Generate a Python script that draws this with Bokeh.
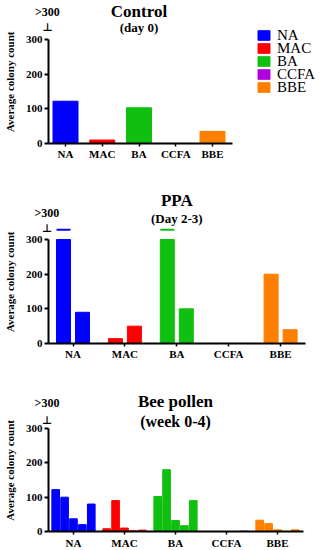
from bokeh.plotting import figure
from bokeh.models import (Range1d, FixedTicker, Label, ColumnDataSource,
                          Legend, LegendItem)
from bokeh.layouts import column
from bokeh.embed import file_html
from bokeh.resources import INLINE

# ---------------- data ----------------
media = ["NA", "MAC", "BA", "CCFA", "BBE"]
media_colors = ["#0000ff", "#ff0000", "#10c010", "#b000e0", "#ff8000"]
y_ticks = [0, 100, 200, 300]

# Control (day 0): one value per medium
control_day0 = [122, 10, 103, 0, 35]

# PPA (day 2-3): two values per medium
ppa_day2 = [300, 14, 300, 0, 200]
ppa_day3 = [90, 50, 100, 0, 40]
ppa_day2_over300 = [True, False, True, False, False]
OVER300_LEVEL = 328

# Bee pollen (week 0-4): five values per medium
pollen_w0 = [122, 8, 102, 0, 33]
pollen_w1 = [100, 90, 180, 0, 23]
pollen_w2 = [37, 10, 32, 0, 5]
pollen_w3 = [20, 2, 17, 0, 0]
pollen_w4 = [80, 4, 90, 1, 5]

SERIF = "Liberation Serif"
W = 321


def base_fig(h, x_range, y_range, axis_x, axis_x_end):
    p = figure(width=W, height=h, min_border=0,
               x_range=Range1d(*x_range), y_range=Range1d(*y_range),
               output_backend="svg", toolbar_location=None)
    p.outline_line_color = None
    p.grid.grid_line_color = None

    ya = p.yaxis[0]
    ya.fixed_location = axis_x
    ya.bounds = (0, 300)
    ya.ticker = FixedTicker(ticks=y_ticks)
    ya.minor_tick_line_color = None
    ya.major_tick_in = 0
    ya.major_tick_out = 4
    ya.axis_line_width = 2
    ya.axis_line_color = "black"
    ya.major_tick_line_width = 2
    ya.major_tick_line_color = "black"
    ya.major_label_standoff = 2
    ya.major_label_text_font = SERIF
    ya.major_label_text_font_style = "bold"
    ya.major_label_text_font_size = "11px"
    ya.major_label_text_color = "black"

    xa = p.xaxis[0]
    xa.fixed_location = 0
    xa.bounds = (axis_x, axis_x_end)
    xa.ticker = FixedTicker(ticks=list(range(len(media))))
    xa.major_label_overrides = {i: m for i, m in enumerate(media)}
    xa.minor_tick_line_color = None
    xa.major_tick_in = 0
    xa.major_tick_out = 3
    xa.axis_line_width = 2
    xa.axis_line_color = "black"
    xa.major_tick_line_width = 1.5
    xa.major_tick_line_color = "black"
    xa.major_label_standoff = 2
    xa.major_label_text_font = SERIF
    xa.major_label_text_font_style = "bold"
    xa.major_label_text_font_size = "11px"
    xa.major_label_text_color = "black"
    return p


def dlabel(p, x, y, text, size, bold=True, font=SERIF, angle=0):
    p.add_layout(Label(x=x, y=y, text=text, text_align="center",
                       text_baseline="middle", text_font=font,
                       text_font_style="bold" if bold else "normal",
                       text_font_size=size, text_color="black",
                       angle=angle, angle_units="deg"))


def headings(p, axis_x, ylabel_x, title, title_y, sub, sub_y, sub_size, over_y, perp_y):
    dlabel(p, 2, title_y, title, "17px")
    dlabel(p, 2, sub_y, sub, sub_size)
    dlabel(p, axis_x - 0.03, over_y, ">300", "12px")
    dlabel(p, axis_x - 0.03, perp_y, "\u22a5", "11px", bold=True, font="DejaVu Sans")
    dlabel(p, ylabel_x, 178, "Average colony count", "11px", angle=90)


def grouped(values_lists, step):
    n = len(values_lists)
    xs, tops, cols = [], [], []
    for j, vals in enumerate(values_lists):
        off = (j - (n - 1) / 2) * step
        for i, v in enumerate(vals):
            xs.append(i + off)
            tops.append(v)
            cols.append(media_colors[i])
    return xs, tops, cols


# ---------------- panel 1: Control ----------------
ax1 = -0.4626
p1 = base_fig(170, (-1.769, 6.966), (-77.9, 412.5), ax1, 4.544)
src1 = ColumnDataSource(dict(x=list(range(len(media))), top=control_day0,
                             color=media_colors, media=media))
r1 = p1.vbar(x="x", top="top", width=0.68, source=src1, fill_color="color",
             line_color="color")
headings(p1, ax1, -1.51, "Control", 380.8, "(day 0)", 333.2, "13px", 377.9, 334.6)

# one single-entry legend per medium, stacked tightly like the reference
for i, m in enumerate(media):
    lg = Legend(items=[LegendItem(label=m, renderers=[r1], index=i)],
                location=(256, 126.4 - 13 * i))
    lg.padding = 0
    lg.margin = 0
    lg.spacing = 0
    lg.border_line_color = None
    lg.background_fill_alpha = 0
    lg.glyph_width = 15
    lg.glyph_height = 12
    lg.label_height = 12
    lg.label_standoff = 6
    lg.label_text_font = SERIF
    lg.label_text_font_size = "15px"
    lg.label_text_color = "black"
    p1.add_layout(lg)

# ---------------- panel 2: PPA ----------------
ax2 = -0.472
p2 = base_fig(200, (-1.397, 4.788), (-77.9, 499.0), ax2, 4.48)
xs2, tops2, cols2 = grouped([ppa_day2, ppa_day3], 0.366)
p2.vbar(x=xs2, top=tops2, width=0.27, fill_color=cols2, line_color=cols2)
ox, oc = [], []
for i, flag in enumerate(ppa_day2_over300):
    if flag:
        ox.append(i - 0.183)
        oc.append(media_colors[i])
p2.segment(x0=[x - 0.135 for x in ox], x1=[x + 0.135 for x in ox],
           y0=[OVER300_LEVEL] * len(ox), y1=[OVER300_LEVEL] * len(ox),
           line_color=oc, line_width=2)
headings(p2, ax2, -1.214, "PPA", 412.5, "(Day 2-3)", 360.6, "13px", 375.0, 331.7)

# ---------------- panel 3: Bee pollen ----------------
ax3 = -0.49
p3 = base_fig(180, (-1.431, 4.863), (-55.3, 468.9), ax3, 4.51)
xs3, tops3, cols3 = grouped([pollen_w0, pollen_w1, pollen_w2, pollen_w3, pollen_w4], 0.1745)
p3.vbar(x=xs3, top=tops3, width=0.15, fill_color=cols3, line_color=cols3)
headings(p3, ax3, -1.245, "Bee pollen", 378.6, "(week 0-4)", 320.4, "16px", 375.7, 323.3)

layout = column(p1, p2, p3, spacing=0)

open("out.html", "w").write(file_html(layout, INLINE))
